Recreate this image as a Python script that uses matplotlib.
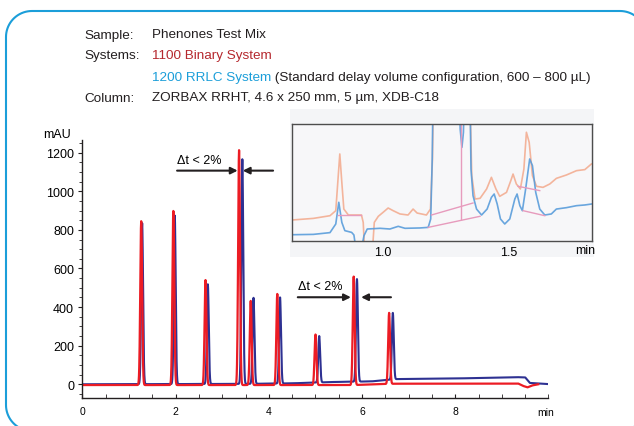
import numpy as np
import matplotlib
matplotlib.use('Agg')
import matplotlib.pyplot as plt
from matplotlib.patches import Rectangle
from matplotlib.ticker import MultipleLocator

plt.rcParams['font.family'] = ['Liberation Sans', 'DejaVu Sans']

# Picos do cromatograma principal (tempo em min, altura em mAU)
red_times = [1.26, 1.95, 2.64, 3.36, 3.61, 4.18, 5.00, 5.82, 6.58]
red_heights = [845, 898, 540, 1213, 432, 468, 258, 558, 370]
blue_times = [1.28, 1.98, 2.69, 3.43, 3.67, 4.24, 5.08, 5.89, 6.66, 9.50]
blue_heights = [835, 874, 518, 1166, 448, 450, 250, 545, 370, 36]

# Linha de base (deriva)
blue_base_t = [0, 3.5, 4.5, 5.4, 6.2, 6.75, 8.0, 9.3, 9.5, 9.6, 10.0]
blue_base_v = [0, 2, 5, 12, 15, 27, 30, 37, 36, 7, 1]
red_base_t = [0, 5.8, 6.7, 9.35, 9.45, 9.55, 9.65, 9.78]
red_base_v = [-4, -4, 3, 4, -8, -16, -6, 0]

# Detalhe (inset): tempo em min, sinal em % da altura do quadro
orange_t = [0.638, 0.724, 0.790, 0.813, 0.821, 0.829, 0.837, 0.845, 0.863, 0.915,
            0.922, 0.927, 0.942, 0.959, 0.966, 0.982, 1.001, 1.021, 1.041, 1.068,
            1.100, 1.120, 1.136, 1.173, 1.189, 1.197, 1.202, 1.344, 1.353, 1.366,
            1.386, 1.412, 1.431, 1.449, 1.464, 1.491, 1.508, 1.517, 1.530, 1.546,
            1.560, 1.570, 1.581, 1.594, 1.610, 1.636, 1.663, 1.689, 1.729, 1.769,
            1.802, 1.828]
orange_v = [17.7, 19.1, 21.4, 25.7, 50, 74.3, 50, 27.1, 22, 22,
            15.7, -7, -13, -7, 15.7, 20.9, 24.3, 28, 25.7, 22.9,
            22, 27.1, 23.7, 22, 27.1, 70, 140, 140, 55.7, 35.7,
            36.3, 44.3, 54.3, 44.3, 38, 41.4, 51.4, 57.1, 48.6, 44.3,
            61.4, 92.9, 84.3, 55.7, 46.6, 45.7, 48.6, 53.4, 56.3, 60,
            60.9, 65.7]
lblue_t = [0.638, 0.724, 0.790, 0.813, 0.825, 0.837, 0.849, 0.876, 0.885, 0.893,
           0.915, 0.925, 0.938, 0.989, 1.028, 1.061, 1.088, 1.147, 1.180, 1.190,
           1.196, 1.200, 1.303, 1.307, 1.314, 1.320, 1.325, 1.345, 1.350, 1.358,
           1.372, 1.392, 1.414, 1.431, 1.442, 1.454, 1.467, 1.484, 1.504, 1.524,
           1.533, 1.544, 1.554, 1.567, 1.583, 1.594, 1.607, 1.623, 1.643, 1.669,
           1.689, 1.729, 1.769, 1.802, 1.828]
lblue_v = [5.1, 5.4, 6.9, 14.3, 32.9, 15.7, 8.6, 7.1, 4.9, -7,
           -7, 4.3, 10, 10.6, 10, 12.3, 10.6, 10.9, 11.4, 18.6,
           70, 140, 140, 95.7, 80, 92.9, 140, 140, 61.4, 38.6,
           27.1, 22, 27.1, 37.1, 40, 31.4, 18.6, 14.3, 18.6, 35.7,
           40, 30, 25.7, 44.3, 70, 64.3, 41.4, 27.1, 22, 22.9,
           27.1, 28.3, 30, 30.6, 31.4]
# linhas de integracao (rosa)
pink_segments = [((1.180, 1.386), (11.4, 20.9)),
                 ((1.193, 1.358), (22, 32.3)),
                 ((1.312, 1.312), (18.6, 100)),
                 ((1.537, 1.623), (46.6, 42.9)),
                 ((1.557, 1.643), (25.7, 21.4)),
                 ((0.823, 0.915), (22, 22))]

RED = '#ec1c24'
BLUE = '#2e3192'
CYAN = '#1b9ed9'
INK = '#231f20'


def trace(t, times, heights, base_t, base_v, sigma=0.02):
    y = np.interp(t, base_t, base_v)
    for t0, h in zip(times, heights):
        y = y + (h - np.interp(t0, base_t, base_v)) * np.exp(-0.5 * ((t - t0) / sigma) ** 2)
    return y


fig = plt.figure(figsize=(6.34, 4.27), dpi=100)

# fundo em coordenadas de pixel (borda arredondada + cabecalho)
bg = fig.add_axes([0, 0, 1, 1], zorder=0)
bg.set_xlim(0, 634)
bg.set_ylim(427, 0)
bg.axis('off')

# borda arredondada (cantos com raio r)
r = 26
x0, y0, x1, y1 = 6, 12, 646, 432
a = np.linspace(0, np.pi / 2, 20)
bx = np.concatenate([x0 + r - r * np.cos(a), x1 - r + r * np.sin(a), x1 - r + r * np.cos(a),
                     x0 + r - r * np.sin(a), [x0]])
by = np.concatenate([y0 + r - r * np.sin(a), y0 + r - r * np.cos(a), y1 - r + r * np.sin(a),
                     y1 - r + r * np.cos(a), [y0 + r]])
bg.plot(bx, by, color=CYAN, lw=1.5, solid_capstyle='round')
bg.add_patch(Rectangle((290, 110), 304, 148, fc='#f4f5f7', ec='none'))

fs = 9.7
for lab, yb in [('Sample:', 38.5), ('Systems:', 59.5), ('Column:', 101.5)]:
    bg.text(84, yb, lab, fontsize=fs, va='baseline', color=INK)
bg.text(152, 38.5, 'Phenones Test Mix', fontsize=fs, va='baseline', color=INK)
bg.text(152, 59.5, '1100 Binary System', fontsize=fs, va='baseline', color='#b5282e')
t1 = bg.text(152, 80.5, '1200 RRLC System', fontsize=fs, va='baseline', color=CYAN)
bg.annotate(' (Standard delay volume configuration, 600 \u2013 800 \u00b5L)', xy=(1, 0),
            xycoords=t1, va='bottom', fontsize=fs, color=INK)
bg.text(152, 101.5, 'ZORBAX RRHT, 4.6 x 250 mm, 5 \u00b5m, XDB-C18', fontsize=fs,
        va='baseline', color=INK)

# cromatograma principal
ax = fig.add_axes([0.1301, 0.0656, 0.7350, 0.6043], zorder=1)
ax.patch.set_alpha(0)
t = np.linspace(0, 10, 5001)
tr = t[t <= 9.78]
ax.plot(t, trace(t, blue_times, blue_heights, blue_base_t, blue_base_v), color=BLUE, lw=1.5)
ax.plot(tr, trace(tr, red_times, red_heights, red_base_t, red_base_v), color=RED, lw=1.6)

ax.set_xlim(0, 10)
ax.set_ylim(-71, 1266)
ax.spines['top'].set_visible(False)
ax.spines['right'].set_visible(False)
for s in ['left', 'bottom']:
    ax.spines[s].set_color(INK)
    ax.spines[s].set_linewidth(1.0)
ax.set_xticks([0, 2, 4, 6, 8])
ax.xaxis.set_minor_locator(MultipleLocator(0.5))
ax.set_yticks(range(0, 1201, 200))
ax.yaxis.set_minor_locator(MultipleLocator(50))
ax.tick_params(axis='x', which='both', direction='in', length=3, labelsize=7.5, pad=6,
               color=INK)
ax.tick_params(axis='y', which='major', direction='out', length=3, labelsize=9, pad=3,
               color=INK)
ax.tick_params(axis='y', which='minor', direction='out', length=2, color=INK)
ax.annotate('min', xy=(9.95, -71), xytext=(0, -6.5), textcoords='offset points',
            fontsize=7.5, ha='center', va='top')
ax.text(-0.55, 1298, 'mAU', fontsize=9, ha='center', va='center', clip_on=False)

# setas delta t
arrow = dict(arrowstyle='-|>', lw=1.5, color=INK, mutation_scale=10,
             shrinkA=0, shrinkB=0)
ax.text(2.03, 1160, '\u0394t < 2%', fontsize=9, va='center')
ax.annotate('', xy=(3.33, 1107), xytext=(2.03, 1107), arrowprops=arrow)
ax.annotate('', xy=(3.44, 1107), xytext=(4.09, 1107), arrowprops=arrow)
ax.text(4.62, 511, '\u0394t < 2%', fontsize=9, va='center')
ax.annotate('', xy=(5.76, 451), xytext=(4.62, 451), arrowprops=arrow)
ax.annotate('', xy=(5.98, 451), xytext=(6.62, 451), arrowprops=arrow)

# inset com detalhe da linha de base
axi = fig.add_axes([0.4601, 0.4340, 0.4737, 0.2733], zorder=2)
axi.set_facecolor('#f7f7f9')
axi.plot(orange_t, orange_v, color='#f3a98c', lw=1.2, alpha=0.85)
axi.plot(lblue_t, lblue_v, color='#5a9ddb', lw=1.2, alpha=0.9)
for xs, ys in pink_segments:
    axi.plot(xs, ys, color='#e79bbd', lw=1.0)
axi.set_xlim(0.638, 1.8306)
axi.set_ylim(0, 100)
axi.set_xticks([1.0, 1.5])
axi.set_xticklabels(['1.0', '1.5'])
axi.set_yticks([])
axi.tick_params(axis='x', length=0, labelsize=9, pad=4)
for s in axi.spines.values():
    s.set_color('#4d4d4d')
    s.set_linewidth(1.0)
axi.text(1.805, -3, 'min', fontsize=9, ha='center', va='top')

plt.savefig('out.png', dpi=100)
